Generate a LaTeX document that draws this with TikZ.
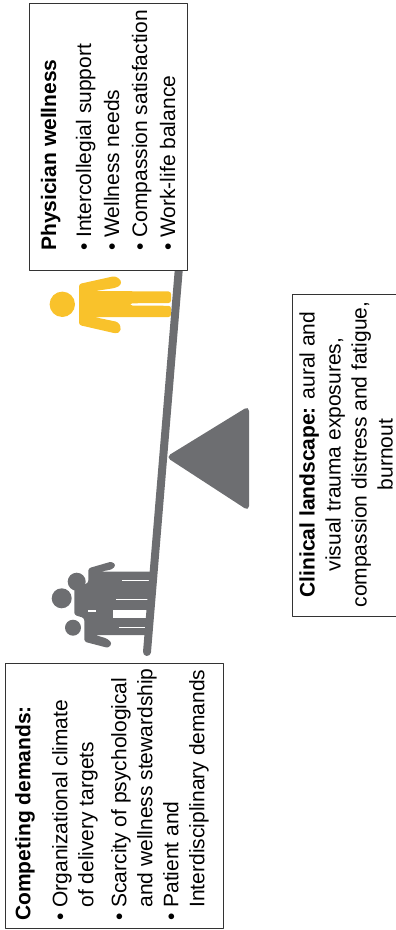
\documentclass[tikz,border=0pt]{standalone}
\usepackage{fontspec}
\setmainfont{Liberation Sans}
\definecolor{beamgray}{HTML}{6D6E71}
\definecolor{figyellow}{HTML}{F9C22B}
\tikzset{
 boxframe/.style={draw=black!80,fill=white,thick,rotate=90,inner sep=0pt},
 boxtext/.style={rotate=90,inner sep=0pt,align=left,anchor=west,font=\fontsize{21}{26}\selectfont},
 figure/.style={rounded corners=2.5pt}
}
\newcommand{\bul}{\textbullet\ }
\newcommand{\ind}{\hphantom{\textbullet\ }}
\begin{document}
\begin{tikzpicture}[x=1pt,y=-1pt,line join=round,line cap=round]
 \useasboundingbox (0,0) rectangle (396,930);
 % yellow figure
 \fill[figyellow] (62.3,304.3) circle (12.7);
 \fill[figyellow,figure] (79,284)--(115,276)--(121,280)--(121,285)--(115,288)--(95,291)--(171,291.5)--(171,303)--(130,303.3)--(130,305.5)--(171,305.8)--(171,317)--(94,317)--(118,322)--(121,327)--(120,332)--(116,333.5)--(79,325)--cycle;
 % gray figures
 \fill[beamgray] (61.7,598.3) circle (10);
 \fill[beamgray] (76.7,581.7) circle (9);
 \fill[beamgray] (73,627.7) circle (8);
 \fill[beamgray,figure] (88.3,568.3)--(111.7,561.5)--(116,565)--(112,569.5)--(100,571.7)--(152,571.7)--(150,635)--(95,635)--(107,638.5)--(112,643)--(108.5,648)--(84.3,641.7)--(84.3,618)--(74.3,615)--(74.3,588)--(88.3,583)--cycle;
 \fill[white] (112.7,610) rectangle (150,618.3);
 \draw[white,line width=1pt,line cap=butt] (122.3,580.7)--(150,580.7) (116,599)--(148,599) (119,627.3)--(146,627.3);
 \fill[white] (87.7,610) rectangle (96,611.7);
 % beam and pivot
 \draw[beamgray,line width=8pt] (147,652)--(180,255);
 \fill[beamgray,rounded corners=5pt] (166,457)--(249,406)--(249,511)--cycle;
 % text boxes
 \node[boxframe,minimum width=267pt,minimum height=158pt] (wellness) at (108,136.5) {};
 \node[boxtext,font=\fontsize{21}{28}\selectfont] (wellnesstext) at (108,251) {\textbf{Physician wellness}\\[7pt]\bul Intercollegial support\\\bul Wellness needs\\\bul Compassion satisfaction\\\bul Work-life balance};
 \node[boxframe,minimum width=265pt,minimum height=218pt] (demands) at (114,795.5) {};
 \node[boxtext] (demandstext) at (112,921) {\textbf{Competing demands:}\\[11pt]\bul Organizational climate\\\ind of delivery targets\\[7pt]\bul Scarcity of psychological\\\ind and wellness stewardship\\\bul Patient and\\\ind Interdisciplinary demands};
 \node[boxframe,minimum width=322pt,minimum height=120pt] (landscape) at (352,455) {};
 \node[boxtext,align=center,anchor=center] (landscapetext) at (346,454.5) {\textbf{Clinical landscape:} aural and\\visual trauma exposures,\\compassion distress and fatigue,\\burnout};
\end{tikzpicture}
\end{document}
